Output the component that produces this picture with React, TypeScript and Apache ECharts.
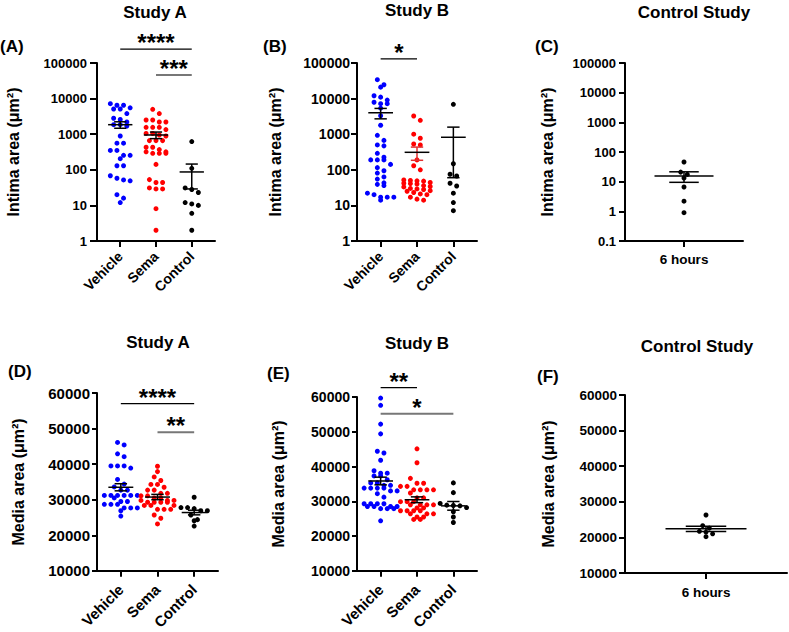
import React, { useEffect, useRef } from "react";
import * as echarts from "echarts";

// ---------- data ----------
const GROUP_CATS = ["Vehicle", "Sema", "Control"];
const CTRL_CATS = ["6 hours"];
const GROUP_COLORS = ["#0000FF", "#FF0000", "#000000"];

// (A) Study A - intima area
const intimaA_vehicle = [7200, 6500, 6500, 5500, 5100, 5100, 3800, 2800, 2600, 2200, 1850, 1850, 1700, 890, 560, 560, 350, 350, 255, 255, 205, 130, 130, 68, 58, 49, 52, 20, 16, 12];
const intimaA_sema = [5000, 3800, 2500, 2500, 2200, 2200, 1560, 1560, 1560, 1350, 1050, 1050, 950, 890, 660, 660, 660, 430, 430, 370, 320, 320, 290, 290, 290, 142, 53, 44, 44, 31, 29, 29, 8.1, 2.0];
const intimaA_control = [620, 110, 31, 28, 23, 12, 11, 10, 6, 2];
const intimaA_mean = [1850, 950, 87];
const intimaA_sem = [380, 200, 58];

// (B) Study B - intima area
const intimaB_vehicle = [34000, 24500, 21000, 12000, 11000, 9100, 7900, 7200, 7200, 5400, 3300, 1780, 930, 670, 500, 470, 290, 225, 190, 190, 190, 142, 115, 94, 81, 63, 55, 43, 39, 36, 22, 20, 17, 17, 17, 14];
const intimaB_sema = [3240, 2450, 1000, 770, 530, 500, 190, 130, 100, 52, 50, 49, 48, 44, 42, 41, 40, 36, 34, 33, 30, 29, 28, 26, 25, 23, 21, 20, 17, 15, 14];
const intimaB_control = [6900, 148, 75, 67, 42, 35, 22, 12, 7.1];
const intimaB_mean = [4000, 310, 820];
const intimaB_sem = [1300, 125, 760];

// (C) Control study - intima area
const intimaC_6h = [46, 21, 17.6, 13.3, 6.6, 2.2, 0.9];
const intimaC_mean = [15.5];
const intimaC_sem = [6];

// (D) Study A - media area
const mediaA_vehicle = [46100, 45400, 42900, 42100, 39500, 39500, 39500, 38900, 35700, 34400, 33600, 32700, 32700, 31200, 31200, 31200, 31200, 31200, 31200, 30500, 29500, 29500, 28700, 28700, 28700, 27700, 27700, 27700, 26900, 25400];
const mediaA_sema = [39400, 37900, 36400, 35400, 34300, 34300, 33500, 32700, 32700, 31800, 31800, 31100, 31100, 30500, 30500, 29800, 29800, 29800, 29300, 29300, 29300, 29300, 28400, 28400, 28400, 27300, 27300, 27300, 25700, 24800, 23200];
const mediaA_control = [30700, 27800, 27800, 27500, 26900, 26900, 25700, 24400, 24100, 22600];
const mediaA_mean = [33500, 30750, 26400];
const mediaA_sem = [1000, 750, 650];

// (E) Study B - media area
const mediaB_vehicle = [59700, 57600, 52200, 49400, 44400, 43900, 41800, 38800, 38100, 38100, 37300, 37300, 36200, 35300, 35300, 34600, 34600, 33800, 33800, 33800, 33800, 33000, 33000, 32200, 31200, 29300, 29300, 29300, 29300, 28500, 28500, 28500, 28500, 27900, 27900, 27900, 24400];
const mediaB_sema = [45100, 41100, 36600, 35200, 35200, 34300, 34300, 33300, 33300, 33300, 33300, 32400, 31000, 31000, 29900, 29900, 29900, 29000, 29000, 29000, 29000, 28100, 28100, 27300, 27300, 27300, 27300, 26400, 26400, 26400, 25500, 25500, 24800, 24800];
const mediaB_control = [35300, 32500, 29400, 28900, 28800, 28700, 28200, 27000, 25500, 23900];
const mediaB_mean = [35850, 30450, 28700];
const mediaB_sem = [1100, 830, 1250];

// (F) Control study - media area
const mediaC_6h = [26300, 23300, 22600, 21700, 21500, 21000, 20200];
const mediaC_mean = [22400];
const mediaC_sem = [750];

// significance brackets: [fromGroup, toGroup, yValue, label]
const bracketsA: [number, number, number, string][] = [[0, 2, 245000, "****"], [1, 2, 46000, "***"]];
const bracketsB: [number, number, number, string][] = [[0, 1, 130000, "*"]];
const bracketsD: [number, number, number, string][] = [[0, 2, 57000, "****"], [1, 2, 49000, "**"]];
const bracketsE: [number, number, number, string][] = [[0, 1, 62700, "**"], [0, 2, 55200, "*"]];

const TITLES = ["Study A", "Study B", "Control Study", "Study A", "Study B", "Control Study"];
const LETTERS = ["(A)", "(B)", "(C)", "(D)", "(E)", "(F)"];
const INTIMA_NAME = "Intima area (μm²)";
const MEDIA_NAME = "Media area (μm²)";

// ---------- layout ----------
const FONT = '"Liberation Sans", Arial, sans-serif';

type Panel = {
  groups: number[][];
  colors: string[];
  errColors: string[];
  cats: string[];
  means: number[];
  sems: number[];
  brackets: [number, number, number, string][];
  log: boolean;
  yMin: number;
  yMax: number;
  split: number;
  yName: string;
  grid: { left: number; top: number; width: number; height: number };
  xMin: number;
  xMax: number;
  tickFont: number;
  catFont: number;
  rotate: number;
  labelMargin: number;
  catMargin: number;
  tickLen: number;
  nameGap: number;
  nameFont: number;
  title: string;
  titleX: number;
  titleY: number;
  letter: string;
  letterX: number;
  letterY: number;
  meanHalf: number;
  capHalf: number;
  maxRow: number;
};

const panels: Panel[] = [
  {
    groups: [intimaA_vehicle, intimaA_sema, intimaA_control], colors: GROUP_COLORS, errColors: ["#000", "#000", "#000"],
    cats: GROUP_CATS, means: intimaA_mean, sems: intimaA_sem, brackets: bracketsA,
    log: true, yMin: 1, yMax: 100000, split: 5, yName: INTIMA_NAME,
    grid: { left: 97, top: 63, width: 118, height: 178 }, xMin: -0.65, xMax: 2.65,
    tickFont: 13, catFont: 14, rotate: 45, labelMargin: 10, catMargin: 13, tickLen: 7, nameGap: 76, nameFont: 16,
    title: TITLES[0], titleX: 155, titleY: 12, letter: LETTERS[0], letterX: 0, letterY: 46, meanHalf: 0.34, capHalf: 0.17, maxRow: 4,
  },
  {
    groups: [intimaB_vehicle, intimaB_sema, intimaB_control], colors: GROUP_COLORS, errColors: ["#000", "#E03030", "#000"],
    cats: GROUP_CATS, means: intimaB_mean, sems: intimaB_sem, brackets: bracketsB,
    log: true, yMin: 1, yMax: 100000, split: 5, yName: INTIMA_NAME,
    grid: { left: 357, top: 63, width: 120, height: 178 }, xMin: -0.65, xMax: 2.65,
    tickFont: 14, catFont: 14, rotate: 45, labelMargin: 7, catMargin: 13, tickLen: 6, nameGap: 74, nameFont: 16,
    title: TITLES[1], titleX: 417, titleY: 10, letter: LETTERS[1], letterX: 263, letterY: 46, meanHalf: 0.34, capHalf: 0.17, maxRow: 5,
  },
  {
    groups: [intimaC_6h], colors: ["#000"], errColors: ["#000"],
    cats: CTRL_CATS, means: intimaC_mean, sems: intimaC_sem, brackets: [],
    log: true, yMin: 0.1, yMax: 100000, split: 6, yName: INTIMA_NAME,
    grid: { left: 625, top: 63, width: 118, height: 178 }, xMin: -1, xMax: 1,
    tickFont: 13, catFont: 13.5, rotate: 0, labelMargin: 9, catMargin: 11, tickLen: 6, nameGap: 70, nameFont: 16,
    title: TITLES[2], titleX: 694, titleY: 12, letter: LETTERS[2], letterX: 535, letterY: 46, meanHalf: 0.5, capHalf: 0.25, maxRow: 3,
  },
  {
    groups: [mediaA_vehicle, mediaA_sema, mediaA_control], colors: GROUP_COLORS, errColors: ["#000", "#000", "#000"],
    cats: GROUP_CATS, means: mediaA_mean, sems: mediaA_sem, brackets: bracketsD,
    log: false, yMin: 10000, yMax: 60000, split: 10000, yName: MEDIA_NAME,
    grid: { left: 97, top: 393, width: 121, height: 184 }, xMin: -0.65, xMax: 2.65,
    tickFont: 15, catFont: 15, rotate: 45, labelMargin: 7, catMargin: 16, tickLen: 5, nameGap: 71, nameFont: 16,
    title: TITLES[3], titleX: 158, titleY: 342, letter: LETTERS[3], letterX: 8, letterY: 371, meanHalf: 0.34, capHalf: 0.17, maxRow: 6,
  },
  {
    groups: [mediaB_vehicle, mediaB_sema, mediaB_control], colors: GROUP_COLORS, errColors: ["#000", "#000", "#000"],
    cats: GROUP_CATS, means: mediaB_mean, sems: mediaB_sem, brackets: bracketsE,
    log: false, yMin: 10000, yMax: 60000, split: 10000, yName: MEDIA_NAME,
    grid: { left: 357, top: 397, width: 120, height: 180 }, xMin: -0.65, xMax: 2.65,
    tickFont: 14, catFont: 15, rotate: 45, labelMargin: 7, catMargin: 16, tickLen: 5, nameGap: 71, nameFont: 16,
    title: TITLES[4], titleX: 417, titleY: 343, letter: LETTERS[4], letterX: 267, letterY: 373, meanHalf: 0.34, capHalf: 0.17, maxRow: 6,
  },
  {
    groups: [mediaC_6h], colors: ["#000"], errColors: ["#000"],
    cats: CTRL_CATS, means: mediaC_mean, sems: mediaC_sem, brackets: [],
    log: false, yMin: 10000, yMax: 60000, split: 10000, yName: MEDIA_NAME,
    grid: { left: 625, top: 395, width: 162, height: 178 }, xMin: -1, xMax: 1,
    tickFont: 13.5, catFont: 13.5, rotate: 0, labelMargin: 8, catMargin: 12, tickLen: 6, nameGap: 69, nameFont: 16,
    title: TITLES[5], titleX: 697, titleY: 346, letter: LETTERS[5], letterX: 537, letterY: 376, meanHalf: 0.5, capHalf: 0.25, maxRow: 4,
  },
];

const DOT = 5;
const DOT_SPACING = 6.6;

// GraphPad-like column scatter: rows of points with similar y are spread symmetrically
function swarm(vals: number[], p: Panel): number[] {
  const tf = (v: number) => (p.log ? Math.log10(v) : v);
  const lo = tf(p.yMin);
  const hi = tf(p.yMax);
  const ypx = vals.map((v) => ((tf(v) - lo) / (hi - lo)) * p.grid.height);
  const pxPerUnit = p.grid.width / (p.xMax - p.xMin);
  const order = vals.map((_, i) => i).sort((a, b) => ypx[b] - ypx[a]);
  const offs = new Array(vals.length).fill(0);
  let row: number[] = [];
  const flush = () => {
    const n = row.length;
    row.forEach((k, j) => {
      offs[k] = ((j - (n - 1) / 2) * DOT_SPACING) / pxPerUnit;
    });
    row = [];
  };
  for (const k of order) {
    if (row.length && (ypx[row[0]] - ypx[k] > DOT_SPACING * 0.8 || row.length >= p.maxRow)) flush();
    row.push(k);
  }
  flush();
  return offs;
}

const fmtTick = (v: number) => String(Number(Number(v).toPrecision(6)));

function buildOption() {
  const series: any[] = [];
  panels.forEach((p, k) => {
    p.groups.forEach((vals, g) => {
      const offs = swarm(vals, p);
      series.push({
        type: "scatter",
        xAxisIndex: k,
        yAxisIndex: k,
        symbol: "circle",
        symbolSize: DOT,
        silent: true,
        z: 2,
        itemStyle: { color: p.colors[g], opacity: 1 },
        data: vals.map((v, i) => [g + offs[i], v]),
      });
    });
    // mean ± SEM
    series.push({
      type: "custom",
      xAxisIndex: k,
      yAxisIndex: k,
      z: 5,
      silent: true,
      encode: { x: 0, y: 1 },
      data: p.means.map((m, i) => [i, m, p.sems[i]]),
      renderItem: (params: any, api: any) => {
        const i = api.value(0);
        const m = api.value(1);
        const s = api.value(2);
        const c = api.coord([i, m]);
        const t = api.coord([i, m + s]);
        const b = api.coord([i, m - s]);
        const ml = api.coord([i - p.meanHalf, m]);
        const mr = api.coord([i + p.meanHalf, m]);
        const cl = api.coord([i - p.capHalf, m]);
        const cr = api.coord([i + p.capHalf, m]);
        const ec = p.errColors[params.dataIndex];
        const st = { stroke: ec, lineWidth: 1.5 };
        return {
          type: "group",
          children: [
            { type: "line", shape: { x1: c[0], y1: t[1], x2: c[0], y2: b[1] }, style: st },
            { type: "line", shape: { x1: cl[0], y1: t[1], x2: cr[0], y2: t[1] }, style: st },
            { type: "line", shape: { x1: cl[0], y1: b[1], x2: cr[0], y2: b[1] }, style: st },
            { type: "line", shape: { x1: ml[0], y1: c[1], x2: mr[0], y2: c[1] }, style: { stroke: "#000", lineWidth: 1.5 } },
          ],
        };
      },
    });
    if (p.brackets.length) {
      series.push({
        type: "custom",
        xAxisIndex: k,
        yAxisIndex: k,
        z: 6,
        silent: true,
        clip: false,
        encode: { x: [0, 1], y: 2 },
        data: p.brackets.map((b) => [b[0], b[1], b[2]]),
        renderItem: (params: any, api: any) => {
          const a = api.coord([api.value(0), api.value(2)]);
          const e = api.coord([api.value(1), api.value(2)]);
          const label = p.brackets[params.dataIndex][3];
          const color = params.dataIndex === 0 ? "#000" : "#777";
          const w = params.dataIndex === 0 ? 1.2 : 2;
          return {
            type: "group",
            children: [
              { type: "line", shape: { x1: a[0], y1: a[1], x2: e[0], y2: e[1] }, style: { stroke: color, lineWidth: w } },
              {
                type: "text",
                x: (a[0] + e[0]) / 2,
                y: a[1] - 6.5,
                style: {
                  text: label,
                  fill: "#000",
                  font: `bold 24px ${FONT}`,
                  textAlign: "center",
                  textVerticalAlign: "middle",
                  align: "center",
                  verticalAlign: "middle",
                },
              },
            ],
          };
        },
      });
    }
  });

  const graphic: any[] = [];
  panels.forEach((p) => {
    graphic.push({
      type: "text",
      x: p.titleX,
      y: p.titleY,
      silent: true,
      style: {
        text: p.title,
        fill: "#000",
        font: `bold 17px ${FONT}`,
        textAlign: "center",
        textVerticalAlign: "middle",
        align: "center",
        verticalAlign: "middle",
      },
    });
    graphic.push({
      type: "text",
      x: p.letterX,
      y: p.letterY,
      silent: true,
      style: {
        text: p.letter,
        fill: "#000",
        font: `bold 17px ${FONT}`,
        textAlign: "left",
        textVerticalAlign: "middle",
        align: "left",
        verticalAlign: "middle",
      },
    });
  });

  return {
    animation: false,
    backgroundColor: "#fff",
    grid: panels.map((p) => ({ ...p.grid, containLabel: false })),
    xAxis: panels.map((p, k) => ({
      type: "value",
      gridIndex: k,
      min: p.xMin,
      max: p.xMax,
      axisLine: { show: true, onZero: false, lineStyle: { color: "#000", width: 2 } },
      axisTick: { show: true, customValues: p.cats.map((_, i) => i), length: 6, lineStyle: { color: "#000", width: 2 } },
      axisLabel: {
        show: true,
        customValues: p.cats.map((_, i) => i),
        formatter: (v: number) => p.cats[Math.round(v)] ?? "",
        rotate: p.rotate,
        margin: p.catMargin,
        color: "#000",
        fontWeight: "bold",
        fontSize: p.catFont,
        fontFamily: FONT,
      },
      splitLine: { show: false },
    })),
    yAxis: panels.map((p, k) => ({
      type: p.log ? "log" : "value",
      logBase: 10,
      gridIndex: k,
      min: p.yMin,
      max: p.yMax,
      ...(p.log ? { splitNumber: p.split } : { interval: p.split }),
      name: p.yName,
      nameLocation: "middle",
      nameGap: p.nameGap,
      nameTextStyle: { color: "#000", fontWeight: "bold", fontSize: p.nameFont, fontFamily: FONT },
      axisLine: { show: true, onZero: false, lineStyle: { color: "#000", width: 2 } },
      axisTick: { show: true, length: p.tickLen, lineStyle: { color: "#000", width: 2 } },
      minorTick: { show: false },
      axisLabel: {
        formatter: fmtTick,
        margin: p.labelMargin,
        color: "#000",
        fontWeight: "bold",
        fontSize: p.tickFont,
        fontFamily: FONT,
      },
      splitLine: { show: false },
    })),
    series,
    graphic,
  };
}

export default function App() {
  const ref = useRef<HTMLDivElement>(null);
  useEffect(() => {
    if (!ref.current) return;
    const chart = echarts.init(ref.current, undefined, { renderer: "svg" });
    chart.setOption(buildOption() as any);
    return () => chart.dispose();
  }, []);
  return (
    <div
      ref={ref}
      style={{ position: "fixed", left: 0, top: 0, width: 789, height: 632, background: "#fff" }}
    />
  );
}
